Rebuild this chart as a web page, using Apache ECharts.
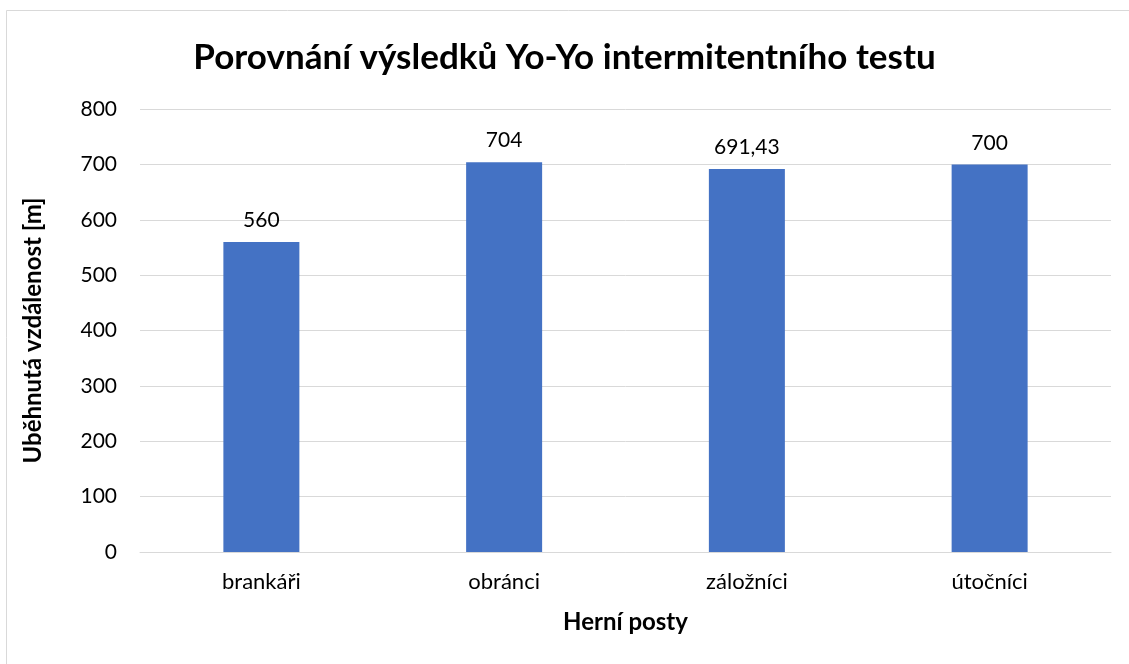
<!DOCTYPE html>
<html>
<head>
<meta charset="utf-8">
<script src="https://cdn.jsdelivr.net/npm/echarts@6/dist/echarts.min.js"></script>
<style>
  html, body { margin: 0; padding: 0; background: #fff; }
  #chart { width: 1129px; height: 664px; }
</style>
</head>
<body>
<div id="chart"></div>
<script>
var categories = ['brankáři', 'obránci', 'záložníci', 'útočníci'];
var distances = [560, 704, 691.43, 700];
var yTicks = [0, 100, 200, 300, 400, 500, 600, 700, 800];

var font = 'Lato, "Open Sans", sans-serif';

var chart = echarts.init(document.getElementById('chart'));

chart.setOption({
	backgroundColor: '#fff',
	animation: false,
	title: {
		text: 'Porovnání výsledků Yo-Yo intermitentního testu',
		left: 'center',
		top: 35,
		textStyle: { fontFamily: font, fontSize: 35, fontWeight: 'bold', color: '#000' }
	},
	// light frame around the chart area (clipped on right and bottom)
	graphic: [{
		type: 'rect',
		shape: { x: 6.5, y: 10.5, width: 1140, height: 680 },
		style: { fill: 'none', stroke: '#d9d9d9', lineWidth: 1 }
	}],
	grid: { left: 140, right: 18, top: 109, bottom: 112 },
	xAxis: {
		type: 'category',
		data: categories,
		name: 'Herní posty',
		nameLocation: 'middle',
		nameGap: 58,
		nameTextStyle: { fontFamily: font, fontSize: 24, fontWeight: 'bold', color: '#000' },
		axisLine: { lineStyle: { color: '#d9d9d9', width: 1 } },
		axisTick: { show: false },
		axisLabel: { fontFamily: font, fontSize: 22, color: '#000', margin: 19 }
	},
	yAxis: {
		type: 'value',
		min: yTicks[0],
		max: yTicks[yTicks.length - 1],
		interval: 100,
		name: 'Uběhnutá vzdálenost [m]',
		nameLocation: 'middle',
		nameGap: 95,
		nameTextStyle: { fontFamily: font, fontSize: 24, fontWeight: 'bold', color: '#000' },
		axisLine: { show: false },
		axisTick: { show: false },
		axisLabel: { fontFamily: font, fontSize: 21, color: '#000', margin: 23 },
		splitLine: { lineStyle: { color: '#d9d9d9', width: 1 } }
	},
	series: [{
		type: 'bar',
		data: distances,
		barWidth: 76,
		itemStyle: { color: '#4472C4' },
		label: {
			show: true,
			position: 'top',
			distance: 11,
			fontFamily: font,
			fontSize: 21,
			color: '#000',
			formatter: function (p) {
				return String(p.value).replace('.', ',');
			}
		}
	}]
});
</script>
</body>
</html>
